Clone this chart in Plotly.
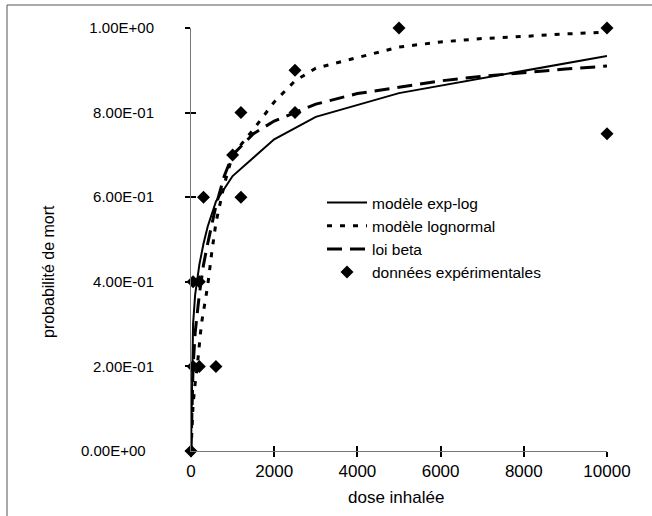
import plotly.graph_objects as go

# Model curves (dose inhalée -> probabilité de mort)
dose_explog = [0, 25, 50, 100, 150, 200, 300, 400, 600, 800, 1000, 2000, 3000, 5000, 10000]
prob_explog = [0.0, 0.22, 0.30, 0.37, 0.41, 0.44, 0.49, 0.53, 0.59, 0.62, 0.65, 0.737, 0.79, 0.846, 0.934]

dose_lognorm = [0, 25, 50, 100, 150, 250, 400, 500, 600, 800, 1000, 1500, 2000, 2500, 3000,
                4000, 5000, 6000, 7000, 8000, 9000, 10000]
prob_lognorm = [0.0, 0.07, 0.11, 0.16, 0.20, 0.30, 0.39, 0.47, 0.54, 0.63, 0.70, 0.76, 0.825,
                0.875, 0.905, 0.93, 0.955, 0.967, 0.975, 0.98, 0.986, 0.99]

dose_beta = [0, 25, 50, 100, 200, 300, 400, 600, 800, 1000, 1500, 2000, 2500, 3000,
             4000, 5000, 6000, 7000, 8000, 9000, 10000]
prob_beta = [0.0, 0.12, 0.20, 0.28, 0.37, 0.44, 0.49, 0.58, 0.65, 0.70, 0.75, 0.78, 0.80, 0.82,
             0.845, 0.86, 0.875, 0.886, 0.895, 0.903, 0.91]

# Experimental observations
dose_exp = [0, 50, 200, 600, 50, 200, 300, 1200, 1000, 1200, 2500, 2500, 5000, 10000, 10000]
prob_exp = [0.0, 0.2, 0.2, 0.2, 0.4, 0.4, 0.6, 0.6, 0.7, 0.8, 0.8, 0.9, 1.0, 1.0, 0.75]

y_tickvals = [0, 0.2, 0.4, 0.6, 0.8, 1.0]
y_ticktext = ["0.00E+00\u00a0\u00a0", "2.00E-01", "4.00E-01", "6.00E-01", "8.00E-01", "1.00E+00"]
x_tickvals = [0, 2000, 4000, 6000, 8000, 10000]
x_ticktext = ["0", "2000", "4000", "6000", "8000", "10000"]

FONT = "Liberation Sans, Arial, Helvetica, sans-serif"

fig = go.Figure()
fig.add_trace(go.Scatter(x=dose_explog, y=prob_explog, mode="lines", name="modèle exp-log",
                         line=dict(color="black", width=2), legendgroup="a", cliponaxis=False))
fig.add_trace(go.Scatter(x=dose_lognorm, y=prob_lognorm, mode="lines", name="modèle lognormal",
                         line=dict(color="black", width=3, dash="5px,8px"), legendgroup="b",
                         cliponaxis=False))
fig.add_trace(go.Scatter(x=dose_beta, y=prob_beta, mode="lines", name="loi beta",
                         line=dict(color="black", width=3, dash="15px,8px"), legendgroup="c",
                         cliponaxis=False))
fig.add_trace(go.Scatter(x=dose_exp, y=prob_exp, mode="markers", name="données expérimentales",
                         marker=dict(symbol="diamond", size=10, color="black"), legendgroup="d",
                         cliponaxis=False))
# companion axes carrying the inner half of each tick mark
fig.add_trace(go.Scatter(x=dose_exp[:1], y=prob_exp[:1], xaxis="x2", yaxis="y2", mode="markers",
                         marker=dict(opacity=0), showlegend=False, hoverinfo="skip"))

axis_common = dict(showgrid=False, zeroline=False, showline=True, linecolor="#777777", linewidth=1,
                   tickcolor="black", tickwidth=2, ticklen=5)

fig.update_layout(
    width=652, height=516,
    margin=dict(l=191, r=45, t=28, b=65),
    paper_bgcolor="white", plot_bgcolor="white",
    font=dict(family=FONT, size=16, color="black"),
    xaxis=dict(range=[0, 10000], tickvals=x_tickvals, ticktext=x_ticktext, ticks="outside",
               ticklabelstandoff=0, tickfont=dict(size=17), **axis_common),
    yaxis=dict(range=[0, 1], tickvals=y_tickvals, ticktext=y_ticktext, ticks="outside",
               ticklabelstandoff=28, tickfont=dict(size=15), **axis_common),
    xaxis2=dict(range=[0, 10000], tickvals=x_tickvals, ticks="inside", overlaying="x",
                anchor="y2", showticklabels=False, **axis_common),
    yaxis2=dict(range=[0, 1], tickvals=y_tickvals, ticks="inside", overlaying="y",
                anchor="x2", showticklabels=False, **axis_common),
    showlegend=True,
    legend=dict(x=(322 - 191) / 416, y=(451 - 186) / 423, xanchor="left", yanchor="top",
                bgcolor="rgba(0,0,0,0)", font=dict(size=15.5), itemwidth=40, tracegroupgap=0),
    annotations=[
        dict(text="probabilité de mort", textangle=-90, x=(48 - 191) / 416, y=(451 - 272) / 423,
             xref="paper", yref="paper", xanchor="center", yanchor="middle", showarrow=False,
             font=dict(size=16)),
        dict(text="dose inhalée", x=(396 - 191) / 416, y=(451 - 497) / 423,
             xref="paper", yref="paper", xanchor="center", yanchor="middle", showarrow=False,
             font=dict(size=17)),
    ],
    shapes=[
        dict(type="rect", xref="paper", yref="paper",
             x0=(7 - 191) / 416, x1=(700 - 191) / 416,
             y0=(451 - 560) / 423, y1=(451 - 5) / 423,
             line=dict(color="#555555", width=1), layer="below"),
    ],
)

fig.write_html("out.html")
